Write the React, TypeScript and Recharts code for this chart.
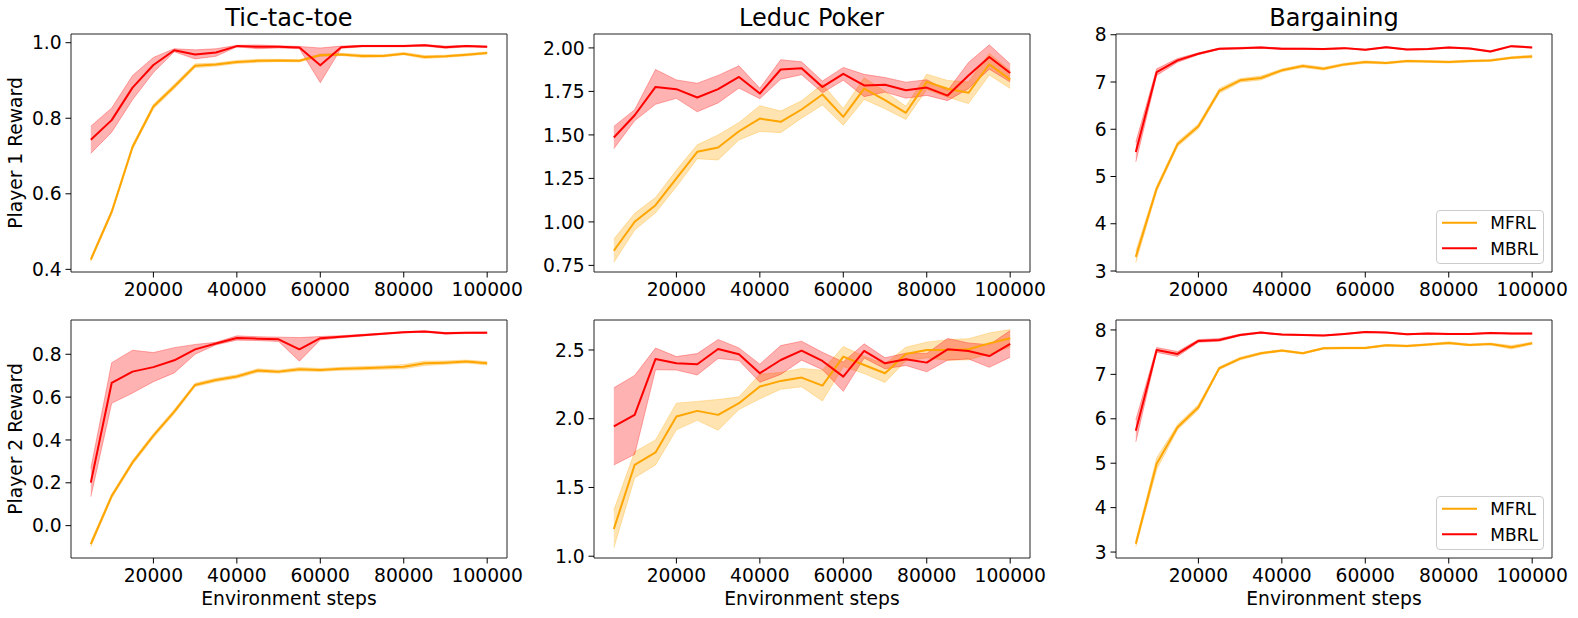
import React from 'react';
import { ComposedChart, Line, Area, XAxis, YAxis, ReferenceArea, Legend } from 'recharts';

const steps = [5000, 10000, 15000, 20000, 25000, 30000, 35000, 40000, 45000, 50000, 55000, 60000, 65000, 70000, 75000, 80000, 85000, 90000, 95000, 100000];
const xTicks = [20000, 40000, 60000, 80000, 100000];
const xDomain: [number, number] = [250, 104750];

const seriesNames = ['MFRL', 'MBRL'];
const titles = ['Tic-tac-toe', 'Leduc Poker', 'Bargaining'];
const yLabels = ['Player 1 Reward', 'Player 2 Reward'];
const xLabel = 'Environment steps';

// Tic-tac-toe, player 1
const tttP1Mfrl = [0.426, 0.552, 0.724, 0.831, 0.884, 0.939, 0.942, 0.949, 0.952, 0.953, 0.952, 0.967, 0.969, 0.965, 0.965, 0.971, 0.962, 0.964, 0.968, 0.973];
const tttP1MfrlSd = [0.005, 0.006, 0.006, 0.006, 0.006, 0.005, 0.004, 0.004, 0.004, 0.003, 0.003, 0.003, 0.003, 0.004, 0.003, 0.003, 0.004, 0.003, 0.003, 0.003];
const tttP1Mbrl = [0.743, 0.795, 0.881, 0.941, 0.980, 0.969, 0.974, 0.991, 0.989, 0.989, 0.987, 0.940, 0.988, 0.991, 0.991, 0.991, 0.993, 0.988, 0.991, 0.989];
const tttP1MbrlSd = [0.036, 0.032, 0.032, 0.020, 0.004, 0.012, 0.010, 0.002, 0.005, 0.003, 0.003, 0.046, 0.003, 0.002, 0.002, 0.002, 0.002, 0.003, 0.002, 0.002];

// Leduc Poker, player 1
const leducP1Mfrl = [0.834, 1.001, 1.096, 1.250, 1.403, 1.428, 1.521, 1.594, 1.575, 1.646, 1.732, 1.604, 1.766, 1.700, 1.627, 1.805, 1.765, 1.742, 1.906, 1.818];
const leducP1MfrlSd = [0.067, 0.048, 0.044, 0.048, 0.040, 0.072, 0.050, 0.074, 0.062, 0.050, 0.060, 0.048, 0.062, 0.050, 0.038, 0.044, 0.048, 0.062, 0.062, 0.051];
const leducP1Mbrl = [1.485, 1.613, 1.776, 1.763, 1.715, 1.763, 1.833, 1.738, 1.876, 1.883, 1.776, 1.851, 1.784, 1.788, 1.757, 1.772, 1.726, 1.841, 1.948, 1.856];
const leducP1MbrlSd = [0.064, 0.032, 0.100, 0.053, 0.082, 0.079, 0.064, 0.030, 0.056, 0.037, 0.034, 0.037, 0.064, 0.042, 0.046, 0.045, 0.029, 0.075, 0.070, 0.052];

// Bargaining, player 1
const bargP1Mfrl = [3.300, 4.745, 5.683, 6.063, 6.810, 7.035, 7.085, 7.247, 7.338, 7.282, 7.373, 7.422, 7.401, 7.443, 7.436, 7.422, 7.443, 7.457, 7.513, 7.542];
const bargP1MfrlSd = [0.120, 0.060, 0.050, 0.050, 0.050, 0.040, 0.040, 0.030, 0.030, 0.030, 0.025, 0.025, 0.020, 0.020, 0.020, 0.020, 0.020, 0.020, 0.020, 0.030];
const bargP1Mbrl = [5.519, 7.210, 7.457, 7.598, 7.703, 7.717, 7.731, 7.703, 7.703, 7.696, 7.717, 7.682, 7.738, 7.689, 7.696, 7.731, 7.710, 7.647, 7.759, 7.731];
const bargP1MbrlSd = [0.210, 0.070, 0.040, 0.020, 0.015, 0.015, 0.015, 0.015, 0.012, 0.012, 0.012, 0.012, 0.012, 0.012, 0.012, 0.012, 0.012, 0.015, 0.015, 0.012];

// Tic-tac-toe, player 2
const tttP2Mfrl = [-0.086, 0.138, 0.295, 0.420, 0.532, 0.657, 0.680, 0.696, 0.724, 0.719, 0.730, 0.727, 0.732, 0.735, 0.738, 0.742, 0.758, 0.761, 0.766, 0.758];
const tttP2MfrlSd = [0.012, 0.010, 0.010, 0.010, 0.010, 0.008, 0.008, 0.008, 0.008, 0.007, 0.008, 0.007, 0.007, 0.008, 0.008, 0.010, 0.010, 0.008, 0.007, 0.008];
const tttP2Mbrl = [0.201, 0.666, 0.719, 0.740, 0.772, 0.823, 0.850, 0.876, 0.873, 0.870, 0.823, 0.875, 0.882, 0.889, 0.896, 0.903, 0.906, 0.898, 0.900, 0.901];
const tttP2MbrlSd = [0.066, 0.095, 0.100, 0.068, 0.059, 0.023, 0.006, 0.010, 0.009, 0.010, 0.055, 0.008, 0.005, 0.004, 0.003, 0.003, 0.003, 0.004, 0.003, 0.003];

// Leduc Poker, player 2
const leducP2Mfrl = [1.198, 1.665, 1.755, 2.016, 2.057, 2.028, 2.113, 2.234, 2.275, 2.299, 2.241, 2.452, 2.391, 2.331, 2.471, 2.500, 2.500, 2.505, 2.548, 2.585];
const leducP2MfrlSd = [0.137, 0.095, 0.091, 0.097, 0.069, 0.112, 0.046, 0.089, 0.061, 0.067, 0.112, 0.073, 0.063, 0.067, 0.049, 0.057, 0.075, 0.077, 0.076, 0.064];
const leducP2Mbrl = [1.944, 2.028, 2.435, 2.403, 2.396, 2.507, 2.469, 2.331, 2.427, 2.495, 2.420, 2.306, 2.493, 2.403, 2.432, 2.408, 2.505, 2.493, 2.456, 2.544];
const leducP2MbrlSd = [0.281, 0.287, 0.079, 0.049, 0.078, 0.069, 0.046, 0.066, 0.105, 0.069, 0.063, 0.107, 0.052, 0.040, 0.045, 0.067, 0.079, 0.058, 0.082, 0.097];

// Bargaining, player 2
const bargP2Mfrl = [3.187, 4.987, 5.811, 6.261, 7.138, 7.355, 7.475, 7.535, 7.475, 7.588, 7.595, 7.595, 7.655, 7.640, 7.670, 7.708, 7.663, 7.685, 7.610, 7.700];
const bargP2MfrlSd = [0.070, 0.130, 0.060, 0.060, 0.030, 0.030, 0.025, 0.020, 0.020, 0.020, 0.020, 0.020, 0.020, 0.020, 0.020, 0.025, 0.020, 0.020, 0.040, 0.025];
const bargP2Mbrl = [5.729, 7.550, 7.460, 7.753, 7.775, 7.888, 7.940, 7.895, 7.888, 7.873, 7.910, 7.955, 7.940, 7.903, 7.918, 7.910, 7.910, 7.933, 7.918, 7.918];
const bargP2MbrlSd = [0.250, 0.055, 0.055, 0.030, 0.030, 0.020, 0.015, 0.012, 0.012, 0.012, 0.012, 0.012, 0.012, 0.012, 0.012, 0.012, 0.012, 0.012, 0.012, 0.012];

// y tick labels
const ticksTttP1 = [0.4, 0.6, 0.8, 1.0];
const ticksLeducP1 = [0.75, 1.0, 1.25, 1.5, 1.75, 2.0];
const ticksBarg = [3, 4, 5, 6, 7, 8];
const ticksTttP2 = [0.0, 0.2, 0.4, 0.6, 0.8];
const ticksLeducP2 = [1.0, 1.5, 2.0, 2.5];

const ORANGE = '#FFA500';
const RED = '#FF0000';
const FONT = 'DejaVu Sans, sans-serif';
const TICK_FS = 18.7;

const FRAME_LEFTS = [71, 593.5, 1116];
const FRAME_TOPS = [33.7, 320];
const PLOT_W = 436;
const PLOT_H = 238;
const Y_AXIS_W = 71;
const X_AXIS_H = 56;
const M_TOP = 10;
const M_RIGHT = 25;

type PanelDef = {
  row: number;
  col: number;
  mfrl: number[];
  mfrlSd: number[];
  mbrl: number[];
  mbrlSd: number[];
  domain: [number, number];
  ticks: number[];
  decimals: number;
};

const panels: PanelDef[] = [
  { row: 0, col: 0, mfrl: tttP1Mfrl, mfrlSd: tttP1MfrlSd, mbrl: tttP1Mbrl, mbrlSd: tttP1MbrlSd, domain: [0.393, 1.023], ticks: ticksTttP1, decimals: 1 },
  { row: 0, col: 1, mfrl: leducP1Mfrl, mfrlSd: leducP1MfrlSd, mbrl: leducP1Mbrl, mbrlSd: leducP1MbrlSd, domain: [0.712, 2.08], ticks: ticksLeducP1, decimals: 2 },
  { row: 0, col: 2, mfrl: bargP1Mfrl, mfrlSd: bargP1MfrlSd, mbrl: bargP1Mbrl, mbrlSd: bargP1MbrlSd, domain: [2.979, 8.016], ticks: ticksBarg, decimals: 0 },
  { row: 1, col: 0, mfrl: tttP2Mfrl, mfrlSd: tttP2MfrlSd, mbrl: tttP2Mbrl, mbrlSd: tttP2MbrlSd, domain: [-0.151, 0.96], ticks: ticksTttP2, decimals: 1 },
  { row: 1, col: 1, mfrl: leducP2Mfrl, mfrlSd: leducP2MfrlSd, mbrl: leducP2Mbrl, mbrlSd: leducP2MbrlSd, domain: [0.987, 2.718], ticks: ticksLeducP2, decimals: 1 },
  { row: 1, col: 2, mfrl: bargP2Mfrl, mfrlSd: bargP2MfrlSd, mbrl: bargP2Mbrl, mbrlSd: bargP2MbrlSd, domain: [2.866, 8.224], ticks: ticksBarg, decimals: 0 },
];

const LegendBox = () => (
  <div
    style={{
      width: 108,
      height: 54,
      boxSizing: 'border-box',
      border: '1px solid #cccccc',
      borderRadius: 4,
      background: 'rgba(255,255,255,0.8)',
      position: 'relative',
    }}
  >
    <svg width={108} height={54} style={{ position: 'absolute', left: -1, top: -1 }}>
      <line x1={6} x2={41} y1={12.7} y2={12.7} stroke={ORANGE} strokeWidth={2} />
      <text x={54.3} y={19.3} fontSize={17} fontFamily={FONT} fill="#000">{seriesNames[0]}</text>
      <line x1={6} x2={41} y1={38.3} y2={38.3} stroke={RED} strokeWidth={2} />
      <text x={54.3} y={44.6} fontSize={17} fontFamily={FONT} fill="#000">{seriesNames[1]}</text>
    </svg>
  </div>
);

const YLabelContent = (props: any) => {
  const vb = props.viewBox || { x: 0, y: 0, width: 0, height: 0 };
  const x = vb.x + 21.7;
  const y = vb.y + vb.height / 2;
  return (
    <text x={x} y={y} transform={`rotate(-90, ${x}, ${y})`} textAnchor="middle" fontSize={TICK_FS} fontFamily={FONT} fill="#000">
      {props.value}
    </text>
  );
};

const XLabelContent = (props: any) => {
  const vb = props.viewBox || { x: 0, y: 0, width: 0, height: 0 };
  return (
    <text x={vb.x + vb.width / 2} y={vb.y + 47} textAnchor="middle" fontSize={TICK_FS} fontFamily={FONT} fill="#000">
      {props.value}
    </text>
  );
};

const Panel = ({ p }: { p: PanelDef }) => {
  const data = steps.map((s, i) => ({
    step: s,
    mfrl: p.mfrl[i],
    mbrl: p.mbrl[i],
    mfrlBand: [p.mfrl[i] - p.mfrlSd[i], p.mfrl[i] + p.mfrlSd[i]],
    mbrlBand: [p.mbrl[i] - p.mbrlSd[i], p.mbrl[i] + p.mbrlSd[i]],
  }));
  const chartLeft = FRAME_LEFTS[p.col] - Y_AXIS_W;
  const chartTop = FRAME_TOPS[p.row] - M_TOP;
  const width = Y_AXIS_W + PLOT_W + M_RIGHT;
  const height = M_TOP + PLOT_H + X_AXIS_H;
  const legendLeft = 1435.7 - chartLeft;
  const legendTop = (p.row === 0 ? 210 : 495.7) - chartTop;
  return (
    <div style={{ position: 'absolute', left: chartLeft, top: chartTop, width, height }}>
      <ComposedChart width={width} height={height} data={data} margin={{ top: M_TOP, right: M_RIGHT, bottom: 0, left: 0 }}>
        <XAxis
          dataKey="step"
          type="number"
          domain={xDomain}
          ticks={xTicks}
          interval={0}
          allowDataOverflow
          height={X_AXIS_H}
          axisLine={false}
          tickSize={5.5}
          tickMargin={5.5}
          tickLine={{ stroke: '#000', strokeWidth: 1 }}
          tick={{ fill: '#000', fontSize: TICK_FS, fontFamily: FONT }}
          label={p.row === 1 ? { value: xLabel, content: XLabelContent } : undefined}
        />
        <YAxis
          type="number"
          domain={p.domain}
          ticks={p.ticks}
          interval={0}
          allowDataOverflow
          width={Y_AXIS_W}
          axisLine={false}
          tickSize={5.5}
          tickMargin={3.8}
          tickLine={{ stroke: '#000', strokeWidth: 1 }}
          tick={{ fill: '#000', fontSize: TICK_FS, fontFamily: FONT }}
          tickFormatter={(v: number) => v.toFixed(p.decimals)}
          label={p.col === 0 ? { value: yLabels[p.row], content: YLabelContent } : undefined}
        />
        <Area type="linear" dataKey="mfrlBand" fill={ORANGE} fillOpacity={0.3} stroke={ORANGE} strokeOpacity={0.3} strokeWidth={1} isAnimationActive={false} dot={false} activeDot={false} legendType="none" />
        <Area type="linear" dataKey="mbrlBand" fill={RED} fillOpacity={0.3} stroke={RED} strokeOpacity={0.3} strokeWidth={1} isAnimationActive={false} dot={false} activeDot={false} legendType="none" />
        <Line type="linear" dataKey="mfrl" name={seriesNames[0]} stroke={ORANGE} strokeWidth={2} strokeLinejoin="round" dot={false} activeDot={false} isAnimationActive={false} />
        <Line type="linear" dataKey="mbrl" name={seriesNames[1]} stroke={RED} strokeWidth={2} strokeLinejoin="round" dot={false} activeDot={false} isAnimationActive={false} />
        <ReferenceArea x1={xDomain[0]} x2={xDomain[1]} y1={p.domain[0]} y2={p.domain[1]} fill="none" fillOpacity={0} stroke="#222" strokeWidth={1} ifOverflow="visible" />
        {p.col === 2 && (
          <Legend
            verticalAlign="middle"
            align="center"
            layout="horizontal"
            content={() => <LegendBox />}
            wrapperStyle={{ left: legendLeft, top: legendTop, width: 108, height: 54, bottom: 'auto', right: 'auto' }}
          />
        )}
      </ComposedChart>
    </div>
  );
};

export default function App() {
  return (
    <div style={{ position: 'absolute', left: 0, top: 0, width: 1578, height: 618, background: '#fff', overflow: 'hidden', fontFamily: FONT }}>
      {titles.map((t, c) => (
        <div
          key={t}
          style={{
            position: 'absolute',
            left: FRAME_LEFTS[c],
            top: 6.4,
            width: PLOT_W,
            textAlign: 'center',
            fontSize: 24,
            lineHeight: '24px',
            fontFamily: FONT,
            color: '#000',
          }}
        >
          {t}
        </div>
      ))}
      {panels.map((p) => (
        <Panel key={`${p.row}-${p.col}`} p={p} />
      ))}
    </div>
  );
}
